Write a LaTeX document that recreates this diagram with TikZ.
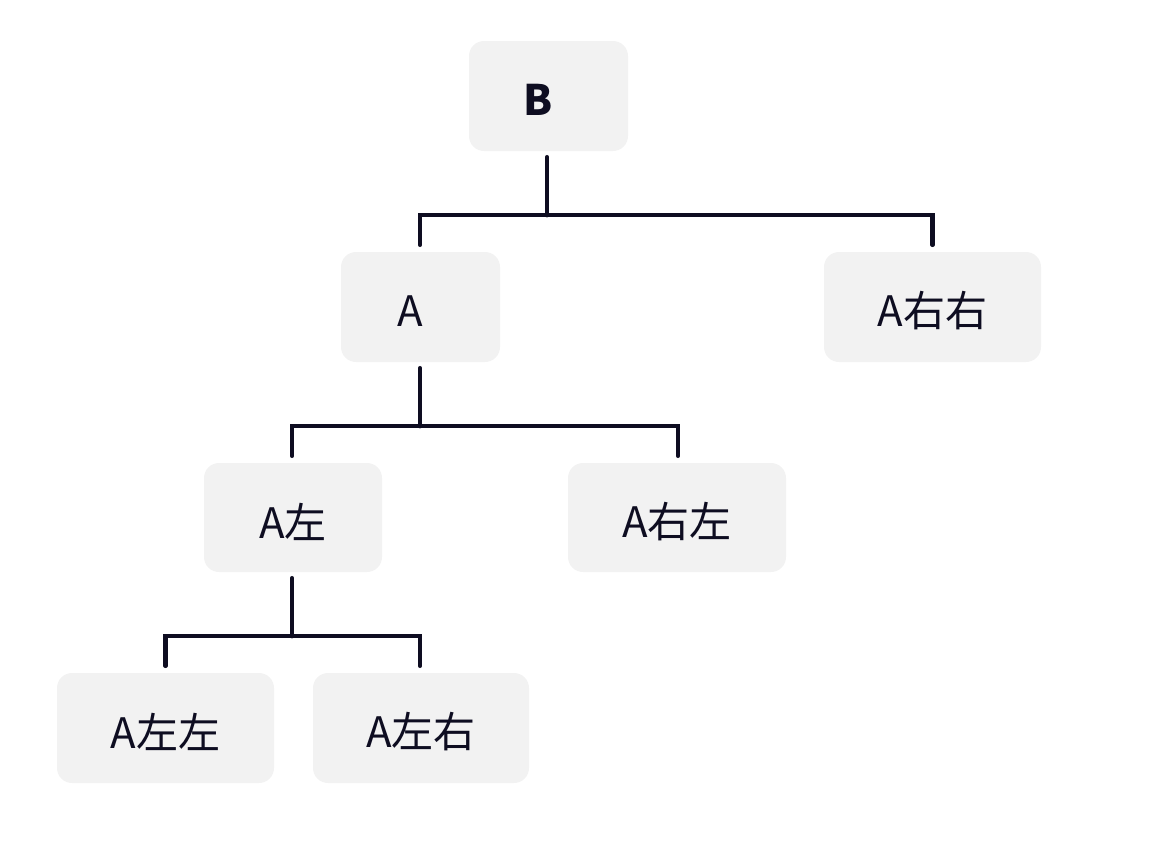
\documentclass[tikz,border=0pt]{standalone}
\usepackage{fontspec}
\newfontfamily\cjk{Noto Sans CJK SC}
\usetikzlibrary{calc}
\definecolor{ink}{RGB}{14,13,33}
\definecolor{boxfill}{RGB}{242,242,242}
\newcommand{\lowered}[1]{\raisebox{-4pt}[\height][\depth]{#1}}
\tikzset{
  treebox/.style={fill=boxfill, draw=none, rounded corners=15pt, inner sep=0pt,
    text=ink, font=\cjk\fontsize{42}{46}\selectfont},
  conn/.style={draw=ink, line width=4.5pt, line cap=round, line join=miter}
}
\begin{document}
\begin{tikzpicture}[x=1pt,y=1pt]
\useasboundingbox (0,0) rectangle (1161,-849);
\node[treebox, minimum width=159pt, minimum height=110pt] (B) at (548.5,-96) {\lowered{\textbf{B}}\hspace*{21pt}};
\node[treebox, minimum width=159pt, minimum height=110pt] (A) at (420.5,-307) {\lowered{A}\hspace*{21pt}};
\node[treebox, minimum width=217pt, minimum height=110pt] (ARR) at (932.5,-307) {\lowered{A右右}};
\node[treebox, minimum width=178pt, minimum height=109pt] (AL) at (293,-517.5) {\lowered{A左}};
\node[treebox, minimum width=218pt, minimum height=109pt] (ARL) at (677,-517.5) {\lowered{A右左}};
\node[treebox, minimum width=217pt, minimum height=110pt] (ALL) at (165.5,-728) {\lowered{A左左}};
\node[treebox, minimum width=216pt, minimum height=110pt] (ALR) at (421,-728) {\lowered{A左右}};
\coordinate (jB) at ($(B.south)+(-1.5,-64)$);
\coordinate (jA) at ($(A.south)+(-0.5,-64)$);
\coordinate (jAL) at ($(AL.south)+(-1,-64)$);
\draw[conn] ([xshift=-1.5pt,yshift=-6pt]B.south) -- (jB);
\draw[conn] ([xshift=-0.5pt,yshift=7pt]A.north) |- (jB) -| ([yshift=7pt]ARR.north);
\draw[conn] ([xshift=-0.5pt,yshift=-6pt]A.south) -- (jA);
\draw[conn] ([xshift=-1pt,yshift=7pt]AL.north) |- (jA) -| ([xshift=1pt,yshift=7pt]ARL.north);
\draw[conn] ([xshift=-1pt,yshift=-6pt]AL.south) -- (jAL);
\draw[conn] ([yshift=7pt]ALL.north) |- (jAL) -| ([xshift=-1pt,yshift=7pt]ALR.north);
\end{tikzpicture}
\end{document}
